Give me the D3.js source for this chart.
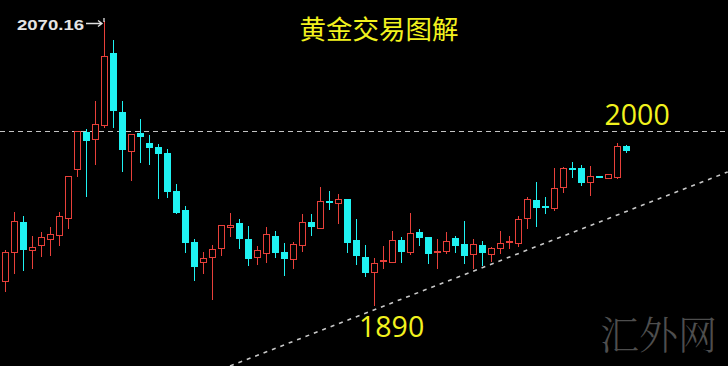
<!DOCTYPE html>
<html>
<head>
<meta charset="utf-8">
<script src="https://cdn.jsdelivr.net/npm/d3@7"></script>
<style>
  html, body { margin: 0; padding: 0; background: #000; }
  svg { display: block; }
</style>
</head>
<body>
<svg id="chart" width="728" height="366"></svg>
<script>
// ---- data (daily candles) ----
const opens  = [1904.2,1922.7,1941.9,1924.0,1927.2,1931.0,1933.6,1944.4,1975.7,1999.5,
                1994.8,2003.8,2049.9,2012.2,1987.2,1998.6,1992.3,1989.7,1986.1,1961.8,
                1949.5,1929.3,1916.3,1919.3,1925.1,1938.9,1941.0,1931.2,1919.3,1922.1,
                1933.1,1922.7,1918.1,1927.2,1941.7,1938.0,1955.3,1953.8,1956.5,1930.4,
                1919.7,1910.0,1916.8,1916.3,1930.4,1922.9,1935.3,1932.1,1922.7,1923.4,
                1931.5,1927.8,1921.3,1927.5,1921.4,1925.1,1929.1,1928.7,1944.2,1955.9,
                1952.3,1950.6,1964.4,1976.5,1976.5,1967.4,1971.2,1969.9,1970.8,1990.4];
const closes = [1922.7,1942.5,1924.0,1925.9,1932.3,1934.2,1945.7,1971.2,1999.9,1993.7,
                2004.4,2047.8,2012.7,1987.8,1998.0,1996.1,1989.1,1985.2,1961.2,1947.8,
                1928.7,1913.3,1918.7,1924.4,1939.9,1939.8,1930.8,1918.1,1923.7,1934.0,
                1921.9,1918.1,1927.6,1941.7,1938.5,1955.3,1953.8,1956.3,1928.7,1920.2,
                1909.5,1915.9,1917.6,1930.4,1922.9,1935.0,1931.8,1921.3,1923.6,1929.9,
                1926.7,1920.4,1927.8,1922.1,1925.5,1928.7,1929.9,1943.8,1956.3,1951.0,
                1951.2,1963.7,1976.1,1975.5,1966.9,1971.2,1970.4,1972.3,1990.4,1987.4];
const highs  = [1924.0,1948.2,1945.7,1932.9,1935.5,1938.7,1948.2,1971.5,2000.2,2001.2,
                2019.3,2070.16,2058.0,2019.1,1998.2,2007.6,1997.4,1991.6,1988.4,1965.9,
                1952.3,1931.2,1922.7,1927.4,1940.2,1947.8,1943.8,1939.0,1926.6,1938.7,
                1936.1,1928.7,1929.3,1946.8,1946.8,1964.0,1961.8,1959.7,1956.8,1943.8,
                1927.4,1918.7,1926.6,1936.1,1932.5,1947.8,1937.2,1932.3,1931.0,1935.7,
                1932.9,1942.7,1931.0,1929.9,1926.1,1936.3,1932.9,1945.7,1958.0,1967.6,
                1958.0,1976.1,1977.1,1980.3,1978.2,1977.8,1971.2,1972.3,1992.5,1991.0];
const lows   = [1897.2,1908.7,1910.6,1911.9,1919.5,1920.2,1926.6,1937.4,1970.6,1958.0,
                1978.2,2001.8,2002.0,1973.8,1968.0,1979.5,1978.2,1956.5,1957.4,1947.0,
                1922.3,1904.0,1908.5,1892.1,1920.2,1932.5,1924.6,1914.0,1914.4,1915.5,
                1919.1,1907.6,1911.7,1922.5,1933.1,1937.4,1949.5,1940.4,1921.9,1914.4,
                1906.6,1888.0,1912.1,1916.0,1915.9,1920.6,1926.6,1915.1,1912.1,1921.4,
                1922.3,1915.1,1912.1,1913.6,1916.5,1921.4,1924.4,1926.1,1937.2,1938.9,
                1947.0,1948.9,1960.6,1969.7,1964.8,1958.5,1970.4,1969.9,1969.1,1986.1];

// annotations
const peakLabel = "2070.16";
const peakIndex = 11;
const levelHigh = 2000;      // horizontal resistance
const levelLow = 1890;       // swing low label
const lowIndex = 41;
const trendIdx = [25, 80.3];        // trend line (support) in candle-index units
const trendPrice = [1850.0, 1973.8];
const titleText = "黄金交易图解";
const watermark = "汇外网";

// ---- drawing ----
const W = 728, H = 366;
const svg = d3.select("#chart");
svg.append("rect").attr("width", W).attr("height", H).attr("fill", "#000");

const x = d3.scaleLinear().domain([0, 69]).range([5, 626]);
const y = d3.scaleLinear().domain([1850, 2083.5]).range([H, 0]);

const UP = "#e8403a", DOWN = "#1ff2f2";
const candles = opens.map((o, i) => ({i, o, c: closes[i], h: highs[i], l: lows[i]}));

// horizontal dashed line at 2000
svg.append("line")
  .attr("x1", 0).attr("x2", W)
  .attr("y1", Math.round(y(levelHigh)) + 0.5).attr("y2", Math.round(y(levelHigh)) + 0.5)
  .attr("stroke", "#c4c4c4").attr("stroke-width", 1).attr("stroke-dasharray", "5,4");

// trend line
svg.append("line")
  .attr("x1", x(trendIdx[0])).attr("y1", y(trendPrice[0]))
  .attr("x2", x(trendIdx[1])).attr("y2", y(trendPrice[1]))
  .attr("stroke", "#c8c8c8").attr("stroke-width", 1.6).attr("stroke-dasharray", "4,5");

const g = svg.append("g");
const cg = g.selectAll("g.candle").data(candles).join("g").attr("class", "candle");

cg.each(function(d) {
  const sel = d3.select(this);
  const up = d.c >= d.o;
  const cx = Math.round(x(d.i));
  const top = Math.round(y(Math.max(d.o, d.c)));
  const bot = Math.round(y(Math.min(d.o, d.c)));
  const col = up ? UP : DOWN;
  const hi = Math.round(y(d.h)), lo = Math.round(y(d.l));
  // wicks
  if (hi < top) sel.append("line").attr("x1", cx + 0.5).attr("x2", cx + 0.5)
      .attr("y1", hi).attr("y2", top).attr("stroke", col).attr("stroke-width", 1);
  if (lo > bot) sel.append("line").attr("x1", cx + 0.5).attr("x2", cx + 0.5)
      .attr("y1", bot).attr("y2", lo).attr("stroke", col).attr("stroke-width", 1);
  if (up) {
    sel.append("rect").attr("x", cx - 3 + 0.5).attr("y", top + 0.5)
      .attr("width", 6).attr("height", Math.max(1, bot - top))
      .attr("fill", "#000").attr("stroke", col).attr("stroke-width", 1);
  } else {
    sel.append("rect").attr("x", cx - 3).attr("y", top)
      .attr("width", 7).attr("height", Math.max(2, bot - top))
      .attr("fill", col);
  }
});

// peak label with arrow
const py = Math.round(y(highs[peakIndex]));
svg.append("text")
  .attr("x", 17).attr("y", 29.5)
  .attr("font-family", "Liberation Sans, Arial, sans-serif")
  .attr("font-weight", "bold").attr("font-size", 15.5)
  .attr("textLength", 67).attr("lengthAdjust", "spacingAndGlyphs")
  .attr("fill", "#e4e4e4").text(peakLabel);
const ax = x(peakIndex);
svg.append("path")
  .attr("d", `M86,${py + 2.5}H${ax - 2} M${ax - 6},${py - 0.5}L${ax - 2},${py + 2.5}L${ax - 6},${py + 5.5} M${ax},${py - 3}V${py + 1}`)
  .attr("fill", "none").attr("stroke", "#e0e0e0").attr("stroke-width", 1.3);

// title
svg.append("text")
  .attr("x", 379).attr("y", 38.5).attr("text-anchor", "middle")
  .attr("font-family", "Noto Sans CJK SC, sans-serif")
  .attr("font-size", 26.5).attr("fill", "#f2f21e")
  .text(titleText);

// level labels
svg.append("text")
  .attr("x", 604.5).attr("y", 125)
  .attr("font-family", "Open Sans, Noto Sans, sans-serif")
  .attr("font-size", 28.5).attr("fill", "#f2f21e")
  .text(String(levelHigh));
svg.append("text")
  .attr("x", x(lowIndex) - 15).attr("y", 336.5)
  .attr("font-family", "Open Sans, Noto Sans, sans-serif")
  .attr("font-size", 28.5).attr("fill", "#f2f21e")
  .text(String(levelLow));

// watermark
svg.append("text")
  .attr("x", 600).attr("y", 349)
  .attr("font-family", "Noto Serif CJK SC, Noto Sans CJK SC, serif")
  .attr("font-weight", 300)
  .attr("font-size", 39).attr("fill", "#4e4e4e")
  .text(watermark);
</script>
</body>
</html>
